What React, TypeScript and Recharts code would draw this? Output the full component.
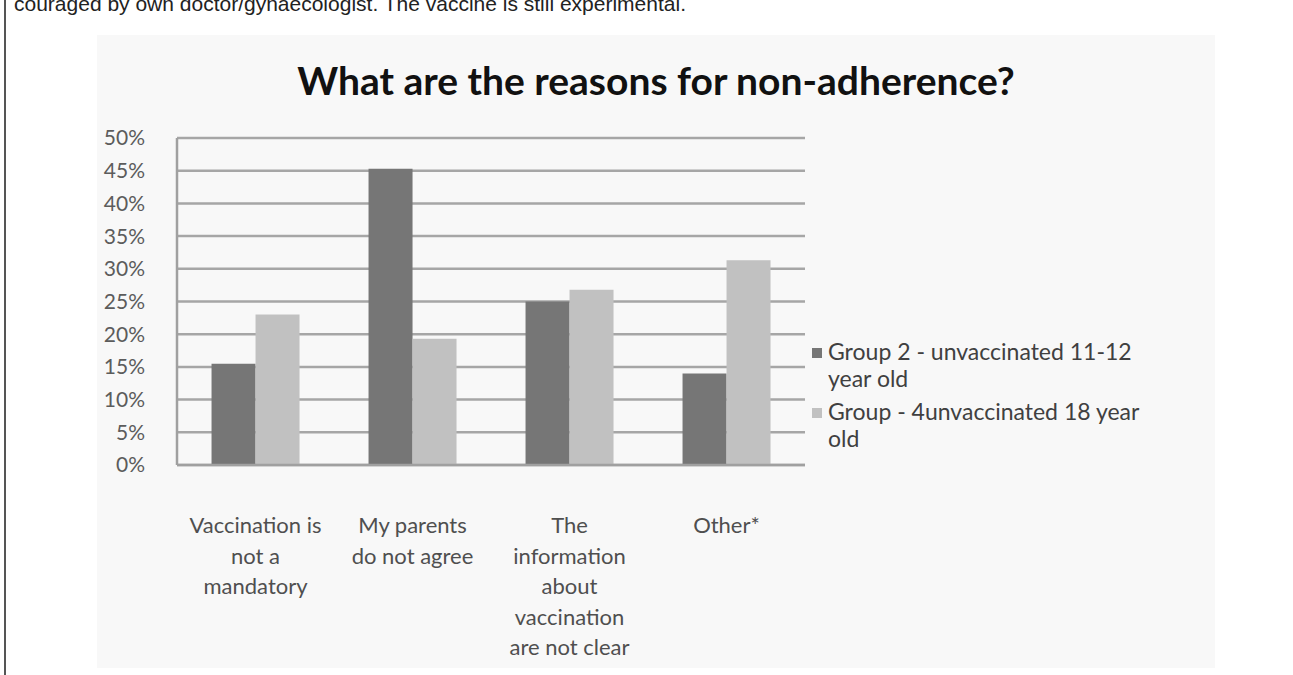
import React from 'react';
import { BarChart, Bar, XAxis, YAxis, CartesianGrid } from 'recharts';

const categories = [
  ['Vaccination is', 'not a', 'mandatory'],
  ['My parents', 'do not agree'],
  ['The', 'information', 'about', 'vaccination', 'are not clear'],
  ['Other*'],
];
const group2 = [15.5, 45.3, 25.0, 14.0];
const group4 = [23.0, 19.3, 26.8, 31.3];
const seriesNames = ['Group 2 - unvaccinated 11-12 year old', 'Group - 4unvaccinated 18 year old'];
const legendLines = [
  ['Group 2 - unvaccinated 11-12', 'year old'],
  ['Group - 4unvaccinated 18 year', 'old'],
];
const yTicks = [0, 5, 10, 15, 20, 25, 30, 35, 40, 45, 50];

const DARK = '#767676';
const LIGHT = '#c1c1c1';
const FONT = 'Lato, "Open Sans", sans-serif';

const data = categories.map((lines, i) => ({
  name: lines.join(' '),
  g2: group2[i],
  g4: group4[i],
}));

const CategoryTick = (props: any) => {
  const { x, y, index } = props;
  const lines = categories[index] || [];
  return (
    <g transform={`translate(${x},${y})`}>
      {lines.map((l, i) => (
        <text
          key={i}
          x={0}
          y={60 + i * 30.5}
          textAnchor="middle"
          fill="#4f4f4f"
          fontSize={22}
          fontFamily={FONT}
        >
          {l}
        </text>
      ))}
    </g>
  );
};

const App: React.FC = () => {
  return (
    <div style={{ position: 'fixed', left: 0, top: 0, width: 1293, height: 675, background: '#fff', overflow: 'hidden' }}>
      <div style={{ position: 'absolute', left: 4, top: 0, width: 1.5, height: 675, background: '#555' }} />
      <div
        style={{
          position: 'absolute',
          left: 14,
          top: -8,
          fontFamily: '"Liberation Sans", Arial, sans-serif',
          fontSize: 21,
          color: '#222',
          whiteSpace: 'nowrap',
        }}
      >
        couraged by own doctor/gynaecologist. The vaccine is still experimental.
      </div>
      <div style={{ position: 'absolute', left: 97, top: 35, width: 1118, height: 633, background: '#f8f8f8' }}>
        <div
          style={{
            position: 'absolute',
            left: 0,
            width: 1118,
            top: 22,
            textAlign: 'center',
            fontFamily: FONT,
            fontWeight: 700,
            fontSize: 39,
            color: '#111',
          }}
        >
          What are the reasons for non-adherence?
        </div>
        <BarChart
          width={1118}
          height={633}
          data={data}
          margin={{ top: 103, right: 410, bottom: 0, left: 0 }}
          barCategoryGap="22%"
          barGap={0}
        >
          <CartesianGrid vertical={false} stroke="#a6a6a6" strokeWidth={2.5} />
          <XAxis
            dataKey="name"
            height={203}
            interval={0}
            tick={<CategoryTick />}
            tickLine={false}
            axisLine={{ stroke: '#a0a0a0', strokeWidth: 2.5 }}
          />
          <YAxis
            width={80}
            domain={[0, 50]}
            ticks={yTicks}
            tickFormatter={(v: number) => `${v}%`}
            tick={{ fill: '#5c5c5c', fontSize: 21, fontFamily: FONT }}
            tickLine={false}
            tickMargin={26}
            axisLine={{ stroke: '#a0a0a0', strokeWidth: 2.5 }}
          />
          <Bar dataKey="g2" name={seriesNames[0]} fill={DARK} isAnimationActive={false} />
          <Bar dataKey="g4" name={seriesNames[1]} fill={LIGHT} isAnimationActive={false} />
        </BarChart>
        <div style={{ position: 'absolute', left: 715, top: 303, fontFamily: FONT, fontSize: 23, color: '#404040' }}>
          {legendLines.map((lines, i) => (
            <div key={i} style={{ display: 'flex', alignItems: 'flex-start', marginBottom: 6 }}>
              <div
                style={{
                  width: 10,
                  height: 10,
                  background: i === 0 ? DARK : LIGHT,
                  marginTop: 10,
                  marginRight: 6,
                }}
              />
              <div style={{ lineHeight: '27px' }}>
                {lines.map((l, j) => (
                  <div key={j}>{l}</div>
                ))}
              </div>
            </div>
          ))}
        </div>
      </div>
    </div>
  );
};

export default App;
